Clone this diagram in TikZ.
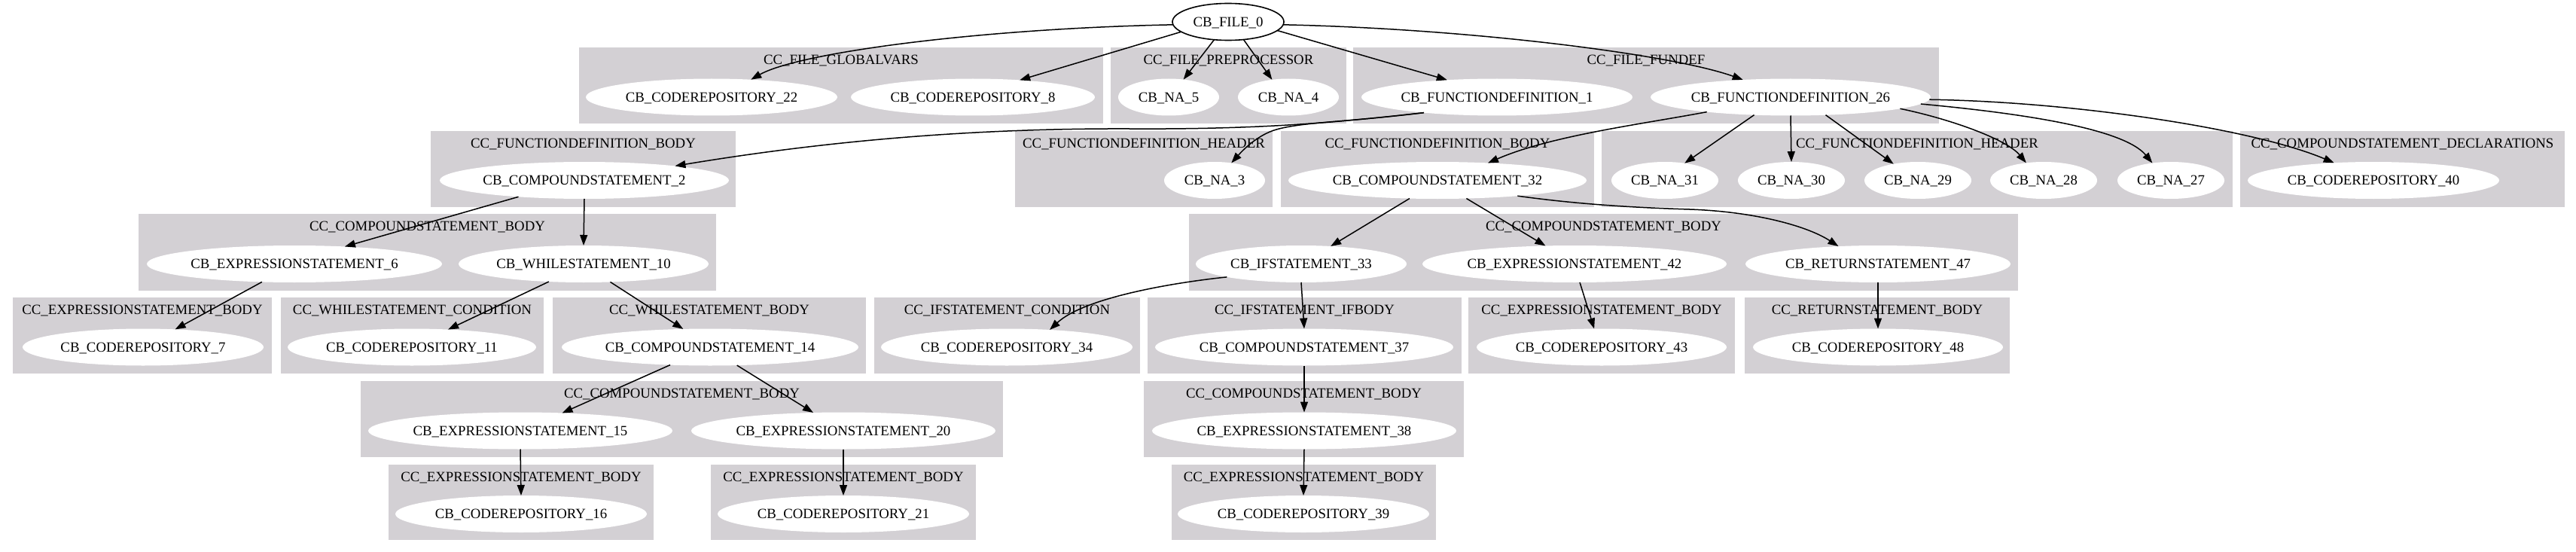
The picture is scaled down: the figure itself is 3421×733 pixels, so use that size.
\documentclass[tikz,border=0pt]{standalone}
\usepackage{fontspec}
\setmainfont{Liberation Serif}
\usetikzlibrary{shapes.geometric,arrows.meta}
\definecolor{gvgray}{RGB}{211,208,212}
\newcommand\gvf{\fontsize{18.8}{22}\selectfont}
\newcommand\gvt[1]{\makebox[0pt][c]{#1}}
\tikzset{
  cb/.style={ellipse, fill=white, minimum width=#1, minimum height=49pt,
    inner sep=0pt, outer sep=0pt, text height=12.4pt, text depth=0pt, font=\gvf},
  clbl/.style={inner sep=0pt, text height=12.4pt, text depth=0pt, font=\gvf},
  cluster/.style={fill=gvgray},
  edge/.style={line width=1.5pt, -{Triangle[length=14pt,width=10pt]}},
}
\begin{document}
\begin{tikzpicture}[x=1pt,y=-1pt]
\useasboundingbox (0,0) rectangle (3421,733);
\fill[white] (0,0) rectangle (3421,733);
% ---------- clusters ----------
% row 1
\fill[cluster] (769,63) rectangle (1465,164);
\node[clbl] (l1) at (1117,79) {CC\_FILE\_GLOBALVARS};
\fill[cluster] (1475,63) rectangle (1788,164);
\node[clbl] (l2) at (1631.5,79) {CC\_FILE\_PREPROCESSOR};
\fill[cluster] (1797,63) rectangle (2575,164);
\node[clbl] (l3) at (2186,79) {CC\_FILE\_FUNDEF};
% row 2
\fill[cluster] (572,174) rectangle (977,275);
\node[clbl] (l4) at (774.5,190) {CC\_FUNCTIONDEFINITION\_BODY};
\fill[cluster] (1348,174) rectangle (1690,275);
\node[clbl] (l5) at (1519,190) {CC\_FUNCTIONDEFINITION\_HEADER};
\fill[cluster] (1701,174) rectangle (2117,275);
\node[clbl] (l6) at (1909,190) {CC\_FUNCTIONDEFINITION\_BODY};
\fill[cluster] (2127,174) rectangle (2965,275);
\node[clbl] (l7) at (2546,190) {CC\_FUNCTIONDEFINITION\_HEADER};
\fill[cluster] (2975,174) rectangle (3406,275);
\node[clbl] (l8) at (3190.5,190) {CC\_COMPOUNDSTATEMENT\_DECLARATIONS};
% row 3
\fill[cluster] (184,284) rectangle (951,386);
\node[clbl] (l9) at (567.5,300) {CC\_COMPOUNDSTATEMENT\_BODY};
\fill[cluster] (1579,284) rectangle (2680,386);
\node[clbl] (l10) at (2129.5,300) {CC\_COMPOUNDSTATEMENT\_BODY};
% row 4
\fill[cluster] (17,395) rectangle (361,496);
\node[clbl] (l11) at (189,411) {CC\_EXPRESSIONSTATEMENT\_BODY};
\fill[cluster] (373,395) rectangle (722,496);
\node[clbl] (l12) at (547.5,411) {CC\_WHILESTATEMENT\_CONDITION};
\fill[cluster] (734,395) rectangle (1150,496);
\node[clbl] (l13) at (942,411) {CC\_WHILESTATEMENT\_BODY};
\fill[cluster] (1161,395) rectangle (1514,496);
\node[clbl] (l14) at (1337.5,411) {CC\_IFSTATEMENT\_CONDITION};
\fill[cluster] (1524,395) rectangle (1941,496);
\node[clbl] (l15) at (1732.5,411) {CC\_IFSTATEMENT\_IFBODY};
\fill[cluster] (1950,395) rectangle (2304,496);
\node[clbl] (l16) at (2127,411) {CC\_EXPRESSIONSTATEMENT\_BODY};
\fill[cluster] (2317,395) rectangle (2669,496);
\node[clbl] (l17) at (2493,411) {CC\_RETURNSTATEMENT\_BODY};
% row 5
\fill[cluster] (479,506) rectangle (1332,607);
\node[clbl] (l18) at (905.5,522) {CC\_COMPOUNDSTATEMENT\_BODY};
\fill[cluster] (1519,506) rectangle (1944,607);
\node[clbl] (l19) at (1731.5,522) {CC\_COMPOUNDSTATEMENT\_BODY};
% row 6
\fill[cluster] (516,617) rectangle (868,717);
\node[clbl] (l20) at (692,633) {CC\_EXPRESSIONSTATEMENT\_BODY};
\fill[cluster] (944,617) rectangle (1296,717);
\node[clbl] (l21) at (1120,633) {CC\_EXPRESSIONSTATEMENT\_BODY};
\fill[cluster] (1556,617) rectangle (1907,717);
\node[clbl] (l22) at (1731.5,633) {CC\_EXPRESSIONSTATEMENT\_BODY};
% ---------- nodes ----------
\node[cb=148pt, draw=black, line width=1.6pt] (file0) at (1631,29) {\gvt{CB\_FILE\_0}};
\node[cb=334pt] (cr22) at (945,129) {\gvt{CB\_CODEREPOSITORY\_22}};
\node[cb=324pt] (cr8) at (1292,129) {\gvt{CB\_CODEREPOSITORY\_8}};
\node[cb=134pt] (na5) at (1552,129) {\gvt{CB\_NA\_5}};
\node[cb=134pt] (na4) at (1711,129) {\gvt{CB\_NA\_4}};
\node[cb=360pt] (fd1) at (1988,129) {\gvt{CB\_FUNCTIONDEFINITION\_1}};
\node[cb=372pt] (fd26) at (2378,129) {\gvt{CB\_FUNCTIONDEFINITION\_26}};
\node[cb=384pt] (cs2) at (776,239.5) {\gvt{CB\_COMPOUNDSTATEMENT\_2}};
\node[cb=134pt] (na3) at (1613,239.5) {\gvt{CB\_NA\_3}};
\node[cb=396pt] (cs32) at (1909,239.5) {\gvt{CB\_COMPOUNDSTATEMENT\_32}};
\node[cb=142pt] (na31) at (2211,239.5) {\gvt{CB\_NA\_31}};
\node[cb=142pt] (na30) at (2379,239.5) {\gvt{CB\_NA\_30}};
\node[cb=142pt] (na29) at (2547,239.5) {\gvt{CB\_NA\_29}};
\node[cb=142pt] (na28) at (2714,239.5) {\gvt{CB\_NA\_28}};
\node[cb=142pt] (na27) at (2883,239.5) {\gvt{CB\_NA\_27}};
\node[cb=334pt] (cr40) at (3152,239.5) {\gvt{CB\_CODEREPOSITORY\_40}};
\node[cb=392pt] (es6) at (391,350.5) {\gvt{CB\_EXPRESSIONSTATEMENT\_6}};
\node[cb=332pt] (ws10) at (775,350.5) {\gvt{CB\_WHILESTATEMENT\_10}};
\node[cb=280pt] (if33) at (1728,350.5) {\gvt{CB\_IFSTATEMENT\_33}};
\node[cb=404pt] (es42) at (2091,350.5) {\gvt{CB\_EXPRESSIONSTATEMENT\_42}};
\node[cb=352pt] (rs47) at (2494,350.5) {\gvt{CB\_RETURNSTATEMENT\_47}};
\node[cb=320pt] (cr7) at (190,461) {\gvt{CB\_CODEREPOSITORY\_7}};
\node[cb=330pt] (cr11) at (547,461) {\gvt{CB\_CODEREPOSITORY\_11}};
\node[cb=394pt] (cs14) at (943,461) {\gvt{CB\_COMPOUNDSTATEMENT\_14}};
\node[cb=334pt] (cr34) at (1337,461) {\gvt{CB\_CODEREPOSITORY\_34}};
\node[cb=396pt] (cs37) at (1732,461) {\gvt{CB\_COMPOUNDSTATEMENT\_37}};
\node[cb=332pt] (cr43) at (2127,461) {\gvt{CB\_CODEREPOSITORY\_43}};
\node[cb=332pt] (cr48) at (2494,461) {\gvt{CB\_CODEREPOSITORY\_48}};
\node[cb=404pt] (es15) at (691,572) {\gvt{CB\_EXPRESSIONSTATEMENT\_15}};
\node[cb=404pt] (es20) at (1120,572) {\gvt{CB\_EXPRESSIONSTATEMENT\_20}};
\node[cb=404pt] (es38) at (1732,572) {\gvt{CB\_EXPRESSIONSTATEMENT\_38}};
\node[cb=334pt] (cr16) at (692,682.5) {\gvt{CB\_CODEREPOSITORY\_16}};
\node[cb=334pt] (cr21) at (1120,682.5) {\gvt{CB\_CODEREPOSITORY\_21}};
\node[cb=334pt] (cr39) at (1731,682.5) {\gvt{CB\_CODEREPOSITORY\_39}};
% ---------- edges ----------
\draw[edge] (file0.183) .. controls (1300,38) and (1060,70) .. (cr22.24);
\draw[edge] (file0.192) -- (cr8.20);
\draw[edge] (file0.232) -- (na5.50);
\draw[edge] (file0.311) -- (na4.133);
\draw[edge] (file0.350) -- (fd1.161);
\draw[edge] (file0.357) .. controls (1950,38) and (2220,72) .. (fd26.160);
\draw[edge] (fd1.192) .. controls (1780,162) and (1680,172) .. (1500,171)
   .. controls (1250,170) and (1050,195) .. (cs2.9);
\draw[edge] (fd1.192) .. controls (1790,162) and (1730,162) .. (1695,172)
   .. controls (1670,179) and (1650,200) .. (na3.46);
\draw[edge] (fd26.190) .. controls (2180,165) and (2060,180) .. (cs32.19);
\draw[edge] (fd26.206) -- (na31.41);
\draw[edge] (fd26.270) -- (na30.90);
\draw[edge] (fd26.333) -- (na29.146);
\draw[edge] (fd26.354) .. controls (2590,158) and (2665,185) .. (na28.135);
\draw[edge] (fd26.357) .. controls (2680,150) and (2820,170) .. (na27.137);
\draw[edge] (fd26.359) .. controls (2750,135) and (2990,170) .. (cr40.156);
\draw[edge] (cs2.194) -- (es6.19);
\draw[edge] (cs2.270) -- (ws10.90);
\draw[edge] (es6.209) -- (cr7.29);
\draw[edge] (ws10.207) -- (cr11.26);
\draw[edge] (ws10.326) -- (cs14.146);
\draw[edge] (cs14.204) -- (es15.23);
\draw[edge] (cs14.326) -- (es20.149);
\draw[edge] (es15.270) -- (cr16.90);
\draw[edge] (es20.270) -- (cr21.90);
\draw[edge] (cs32.213) -- (if33.31);
\draw[edge] (cs32.328) -- (es42.148);
\draw[edge] (cs32.349) .. controls (2100,272) and (2180,276) .. (2244,278)
   .. controls (2330,281) and (2400,300) .. (rs47.156);
\draw[edge] (if33.190) .. controls (1560,375) and (1440,395) .. (cr34.22);
\draw[edge] (if33.270) -- (cs37.90);
\draw[edge] (es42.286) -- (cr43.112);
\draw[edge] (rs47.270) -- (cr48.90);
\draw[edge] (cs37.270) -- (es38.90);
\draw[edge] (es38.270) -- (cr39.90);
\end{tikzpicture}
\end{document}
